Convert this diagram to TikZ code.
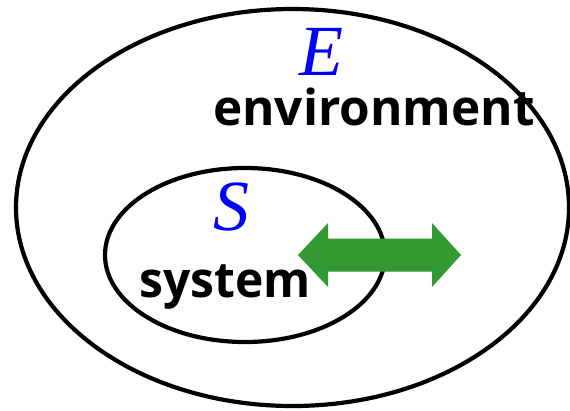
\documentclass[tikz,border=0pt]{standalone}
\usepackage{fontspec}
\setmainfont{Liberation Serif}
\newfontfamily\labelfont{Open Sans}
\definecolor{arrowgreen}{HTML}{339933}
\begin{document}
\begin{tikzpicture}[x=1pt,y=-1pt,
  region/.style={draw=black,line width=4.2pt},
  symb/.style={text=blue,font=\fontsize{72}{72}\selectfont\itshape,inner sep=0pt,anchor=base},
  word/.style={font=\labelfont\bfseries\fontsize{49.5}{50}\selectfont,inner sep=0pt,anchor=base west},
  flow/.style={fill=arrowgreen}]
\useasboundingbox (0,0) rectangle (570,410);
\draw[region] (292.5,207.5) ellipse [x radius=276.5, y radius=198.5];
\draw[region] (245,255) ellipse [x radius=140, y radius=87];
\node[symb] (E) at (321,75) {E};
\node[word] (env) at (213,125) {environment};
\node[symb] (S) at (231,230) {S};
\node[word,xscale=0.97] (sys) at (139,297) {system};
\fill[flow] (298,255) -- (328,223) -- (328,238.5) -- (432,238.5) -- (432,223) -- (461,255)
  -- (432,287) -- (432,271.5) -- (328,271.5) -- (328,287) -- cycle;
\end{tikzpicture}
\end{document}
